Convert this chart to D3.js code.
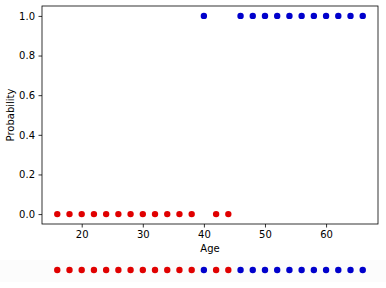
<!DOCTYPE html>
<html><head><meta charset="utf-8">
<script src="https://cdn.jsdelivr.net/npm/d3@7"></script>
<style>body{margin:0;background:#fff}svg{display:block}text{font-family:"DejaVu Sans",sans-serif}</style>
</head><body>
<script>
const ages = [16,18,20,22,24,26,28,30,32,34,36,38,40,42,44,46,48,50,52,54,56,58,60,62,64,66];
const labels = [0,0,0,0,0,0,0,0,0,0,0,0,1,0,0,1,1,1,1,1,1,1,1,1,1,1];
const xTicks = [20,30,40,50,60];
const yTicks = [0.0,0.2,0.4,0.6,0.8,1.0];
const colors = ["#e00000","#0000cc"];

const W=386,H=288;
const m={l:42,r:378,t:6,b:224};
const svg=d3.select("body").append("svg").attr("width",W).attr("height",H);
const x=d3.scaleLinear().domain([13.5,68.5]).range([m.l,m.r]);
const y=d3.scaleLinear().domain([-0.05,1.05]).range([m.b,m.t]);

// strip background
svg.append("rect").attr("x",0).attr("y",260).attr("width",W).attr("height",22).attr("fill","#fcfcfc");

const gx=svg.append("g").attr("transform",`translate(0,${m.b})`)
 .call(d3.axisBottom(x).tickValues(xTicks).tickFormat(d3.format("d")).tickSize(3.5).tickPadding(3.5));
const gy=svg.append("g").attr("transform",`translate(${m.l},0)`)
 .call(d3.axisLeft(y).tickValues(yTicks).tickFormat(d3.format(".1f")).tickSize(3.5).tickPadding(3.5));
[gx,gy].forEach(g=>{g.select(".domain").remove();g.selectAll("text").attr("font-size",10).attr("fill","#000").style("font-family","DejaVu Sans");g.selectAll("line").attr("stroke","#000").attr("stroke-width",0.8);});

svg.append("rect").attr("x",m.l).attr("y",m.t).attr("width",m.r-m.l).attr("height",m.b-m.t)
 .attr("fill","none").attr("stroke","#000").attr("stroke-width",0.8);

svg.append("g").selectAll("circle").data(ages).join("circle")
 .attr("cx",d=>x(d)).attr("cy",(d,i)=>y(labels[i])).attr("r",3.2).attr("fill",(d,i)=>colors[labels[i]]);

svg.append("g").selectAll("circle").data(ages).join("circle")
 .attr("cx",d=>x(d)).attr("cy",270).attr("r",3.2).attr("fill",(d,i)=>colors[labels[i]]);

svg.append("text").attr("x",(m.l+m.r)/2).attr("y",252).attr("text-anchor","middle").attr("font-size",10).text("Age");
svg.append("text").attr("transform",`translate(14,${(m.t+m.b)/2}) rotate(-90)`).attr("text-anchor","middle").attr("font-size",10).text("Probability");
</script>
</body></html>
